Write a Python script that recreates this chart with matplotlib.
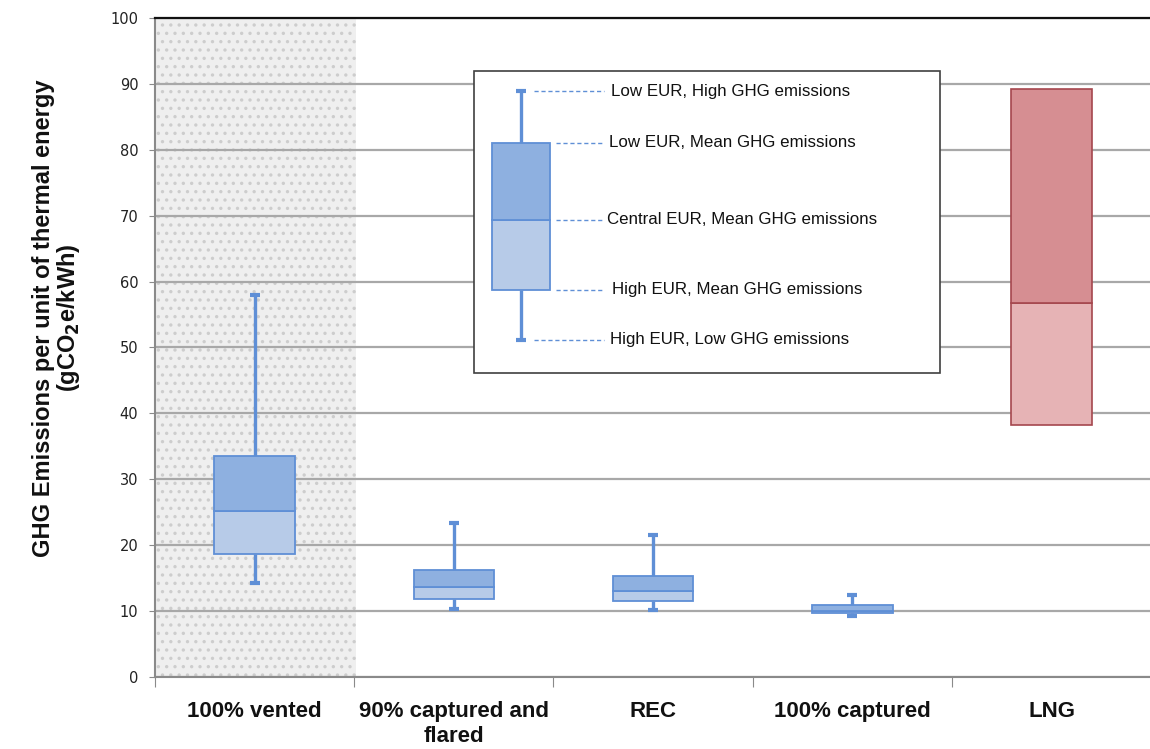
import matplotlib.pyplot as plt
from matplotlib.patches import Rectangle

categories = ['100% vented', '90% captured and\nflared', 'REC', '100% captured', 'LNG']

# box plot values for the four shale gas cases
whisker_low = [14.2, 10.3, 10.2, 9.2]
box_low = [18.7, 11.8, 11.5, 9.7]
median = [25.2, 13.7, 13.1, 10.0]
box_high = [33.5, 16.2, 15.4, 10.9]
whisker_high = [58.0, 23.3, 21.5, 12.5]

# LNG range
lng_low = 38.2
lng_mid = 56.8
lng_high = 89.2

# key example
key_values = [51.2, 58.8, 69.4, 81.1, 88.9]
key_labels = ['High EUR, Low GHG emissions', 'High EUR, Mean GHG emissions',
              'Central EUR, Mean GHG emissions', 'Low EUR, Mean GHG emissions',
              'Low EUR, High GHG emissions']

blue_dark = '#8eb0e0'
blue_light = '#b7cbe8'
blue_edge = '#5f8fd6'
red_dark = '#d68e92'
red_light = '#e6b3b5'
red_edge = '#a5474e'

plt.rcParams['font.family'] = ['Liberation Sans', 'DejaVu Sans']
plt.rcParams['hatch.linewidth'] = 1.2

fig = plt.figure(figsize=(11.5, 7.49), dpi=100)
ax = fig.add_axes([0.1348, 0.0961, 0.8662, 0.8799])

ax.set_xlim(-0.5, 4.5)
ax.set_ylim(0, 100)

# hatched background behind the vented case
ax.axvspan(-0.5, 0.51, facecolor='#efefef', edgecolor='#cdcdcd', hatch='..',
           linewidth=0, zorder=0)

ax.set_axisbelow(True)
ax.yaxis.grid(True, color='#a8a8a8', linewidth=1.6)

bw = 0.405
cap = 0.05
xs = list(range(len(whisker_low)))

ax.vlines(xs, whisker_low, box_low, color=blue_edge, linewidth=2.4, zorder=2)
ax.vlines(xs, box_high, whisker_high, color=blue_edge, linewidth=2.4, zorder=2)
ax.hlines(whisker_low, [x - cap / 2 for x in xs], [x + cap / 2 for x in xs],
          color=blue_edge, linewidth=3, zorder=2)
ax.hlines(whisker_high, [x - cap / 2 for x in xs], [x + cap / 2 for x in xs],
          color=blue_edge, linewidth=3, zorder=2)
ax.bar(xs, [m - l for m, l in zip(median, box_low)], bottom=box_low, width=bw,
       color=blue_light, edgecolor=blue_edge, linewidth=1.3, zorder=3)
ax.bar(xs, [h - m for h, m in zip(box_high, median)], bottom=median, width=bw,
       color=blue_dark, edgecolor=blue_edge, linewidth=1.3, zorder=3)

ax.bar(4, lng_mid - lng_low, bottom=lng_low, width=bw,
       color=red_light, edgecolor=red_edge, linewidth=1.2, zorder=3)
ax.bar(4, lng_high - lng_mid, bottom=lng_mid, width=bw,
       color=red_dark, edgecolor=red_edge, linewidth=1.2, zorder=3)

# key box
ax.add_patch(Rectangle((1.103, 46.1), 2.335, 45.86, facecolor='white',
                       edgecolor='#404040', linewidth=1.2, zorder=4))
kx = 1.337
kw = 0.289
ax.vlines(kx, key_values[0], key_values[1], color=blue_edge, linewidth=2.4, zorder=5)
ax.vlines(kx, key_values[3], key_values[4], color=blue_edge, linewidth=2.4, zorder=5)
ax.hlines([key_values[0], key_values[4]], kx - cap / 2, kx + cap / 2,
          color=blue_edge, linewidth=3, zorder=5)
ax.bar(kx, key_values[2] - key_values[1], bottom=key_values[1], width=kw,
       color=blue_light, edgecolor=blue_edge, linewidth=1.3, zorder=5)
ax.bar(kx, key_values[3] - key_values[2], bottom=key_values[2], width=kw,
       color=blue_dark, edgecolor=blue_edge, linewidth=1.3, zorder=5)

line_start = [1.404, 1.514, 1.514, 1.514, 1.404]
text_x = [1.785, 1.795, 1.77, 1.78, 1.79]
for v, lab, x0, tx in zip(key_values, key_labels, line_start, text_x):
    ax.plot([x0, 1.755], [v, v], color=blue_edge, linewidth=1, linestyle=(0, (3, 2)),
            zorder=5)
    ax.text(tx, v, lab, fontsize=12.2, va='center', ha='left', color='#111111',
            zorder=6)

# axes styling
ax.spines['right'].set_visible(False)
ax.spines['top'].set_color('#111111')
ax.spines['top'].set_linewidth(1.6)
ax.spines['left'].set_color('#8a8a8a')
ax.spines['left'].set_linewidth(1.5)
ax.spines['bottom'].set_color('#8a8a8a')
ax.spines['bottom'].set_linewidth(1.5)

ax.set_yticks(range(0, 101, 10))
ax.tick_params(axis='y', length=4, color='#8a8a8a', labelsize=10.5, pad=8,
               labelcolor='#222222', labelfontfamily='DejaVu Sans')
ax.set_xticks([-0.5, 0.5, 1.5, 2.5, 3.5])
ax.set_xticklabels([])
ax.tick_params(axis='x', which='major', length=7, color='#8a8a8a')
ax.set_xticks(range(5), minor=True)
ax.set_xticklabels(categories, minor=True, fontsize=16, fontweight='bold',
                   color='#111111', linespacing=1.3)
ax.tick_params(axis='x', which='minor', length=0, pad=17)

ax.set_ylabel('GHG Emissions per unit of thermal energy\n(gCO$_\\mathbf{2}$e/kWh)',
              fontsize=17, fontweight='bold', color='#111111', linespacing=1.0)
ax.yaxis.set_label_coords(-0.073, 0.545)

fig.savefig('out.png', dpi=100)
